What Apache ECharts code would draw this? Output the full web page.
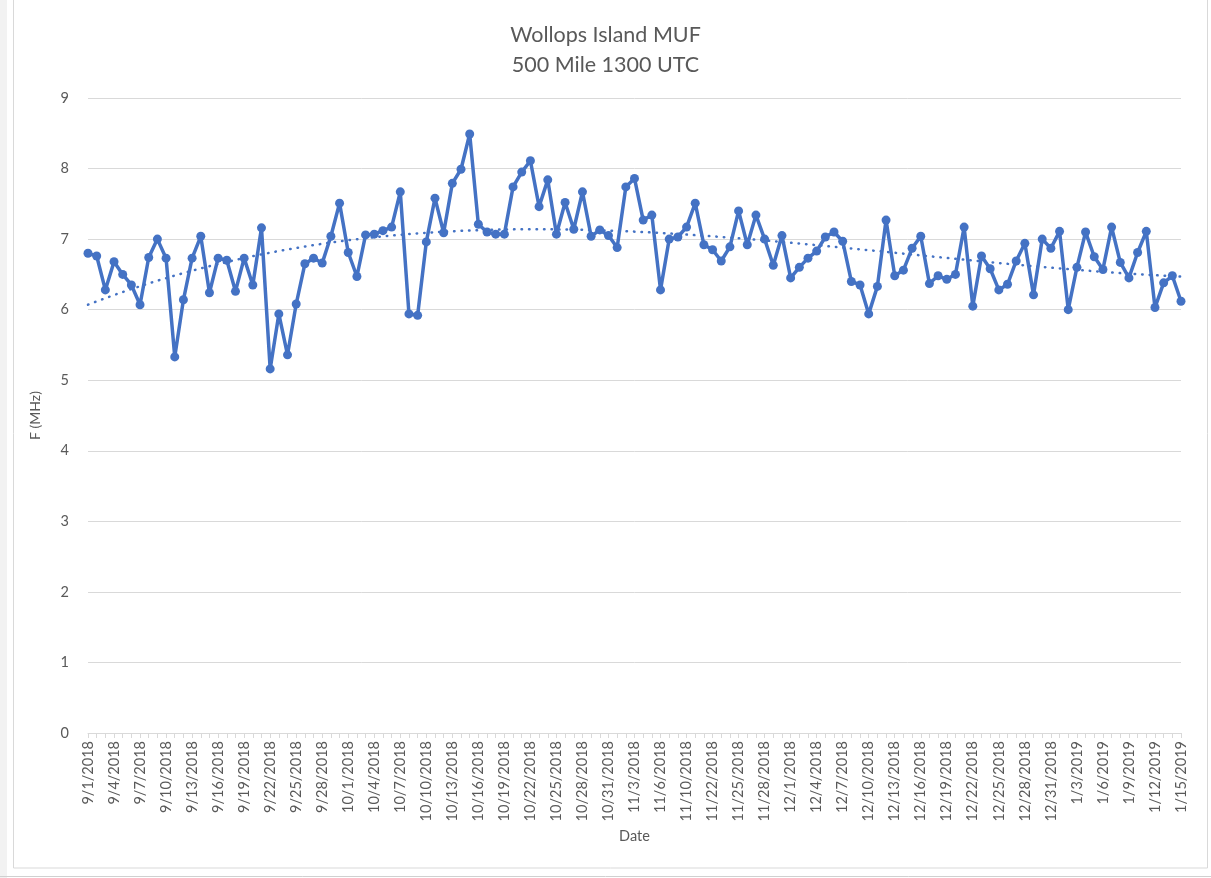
<!DOCTYPE html>
<html>
<head>
<meta charset="utf-8">
<script src="https://cdn.jsdelivr.net/npm/echarts@6/dist/echarts.min.js"></script>
<style>html,body{margin:0;padding:0;background:#fff;}#chart{width:1211px;height:878px;}</style>
</head>
<body>
<div id="chart"></div>
<script>
var titleText = "Wollops Island MUF\n500 Mile 1300 UTC";
var xAxisName = "Date";
var yAxisName = "F (MHz)";
var yTicks = [0, 1, 2, 3, 4, 5, 6, 7, 8, 9];

var dates = [
"9/1/2018","9/2/2018","9/3/2018","9/4/2018","9/5/2018","9/6/2018","9/7/2018","9/8/2018","9/9/2018","9/10/2018",
"9/11/2018","9/12/2018","9/13/2018","9/14/2018","9/15/2018","9/16/2018","9/17/2018","9/18/2018","9/19/2018","9/20/2018",
"9/21/2018","9/22/2018","9/23/2018","9/24/2018","9/25/2018","9/26/2018","9/27/2018","9/28/2018","9/29/2018","9/30/2018",
"10/1/2018","10/2/2018","10/3/2018","10/4/2018","10/5/2018","10/6/2018","10/7/2018","10/8/2018","10/9/2018","10/10/2018",
"10/11/2018","10/12/2018","10/13/2018","10/14/2018","10/15/2018","10/16/2018","10/17/2018","10/18/2018","10/19/2018","10/20/2018",
"10/21/2018","10/22/2018","10/23/2018","10/24/2018","10/25/2018","10/26/2018","10/27/2018","10/28/2018","10/29/2018","10/30/2018",
"10/31/2018","11/1/2018","11/2/2018","11/3/2018","11/4/2018","11/5/2018","11/6/2018","11/7/2018","11/8/2018","11/10/2018",
"11/11/2018","11/12/2018","11/22/2018","11/23/2018","11/24/2018","11/25/2018","11/26/2018","11/27/2018","11/28/2018","11/29/2018",
"11/30/2018","12/1/2018","12/2/2018","12/3/2018","12/4/2018","12/5/2018","12/6/2018","12/7/2018","12/8/2018","12/9/2018",
"12/10/2018","12/11/2018","12/12/2018","12/13/2018","12/14/2018","12/15/2018","12/16/2018","12/17/2018","12/18/2018","12/19/2018",
"12/20/2018","12/21/2018","12/22/2018","12/23/2018","12/24/2018","12/25/2018","12/26/2018","12/27/2018","12/28/2018","12/29/2018",
"12/30/2018","12/31/2018","1/1/2019","1/2/2019","1/3/2019","1/4/2019","1/5/2019","1/6/2019","1/7/2019","1/8/2019",
"1/9/2019","1/10/2019","1/11/2019","1/12/2019","1/13/2019","1/14/2019","1/15/2019"
];

var mufValues = [
6.80, 6.76, 6.28, 6.68, 6.50, 6.35, 6.07, 6.74, 7.00, 6.73,
5.33, 6.14, 6.73, 7.04, 6.24, 6.73, 6.70, 6.26, 6.73, 6.35,
7.16, 5.16, 5.94, 5.36, 6.08, 6.65, 6.73, 6.66, 7.04, 7.51,
6.81, 6.47, 7.06, 7.07, 7.12, 7.17, 7.67, 5.94, 5.92, 6.96,
7.58, 7.09, 7.79, 7.99, 8.49, 7.21, 7.10, 7.07, 7.07, 7.74,
7.95, 8.11, 7.46, 7.84, 7.07, 7.52, 7.14, 7.67, 7.04, 7.13,
7.05, 6.88, 7.74, 7.86, 7.27, 7.34, 6.28, 7.00, 7.03, 7.17,
7.51, 6.92, 6.85, 6.69, 6.89, 7.40, 6.92, 7.34, 7.00, 6.63,
7.05, 6.45, 6.60, 6.73, 6.83, 7.03, 7.10, 6.97, 6.40, 6.35,
5.94, 6.33, 7.27, 6.48, 6.56, 6.87, 7.04, 6.37, 6.48, 6.43,
6.50, 7.17, 6.05, 6.76, 6.58, 6.28, 6.36, 6.69, 6.94, 6.21,
7.00, 6.87, 7.11, 6.00, 6.60, 7.10, 6.75, 6.57, 7.17, 6.67,
6.45, 6.81, 7.11, 6.03, 6.38, 6.48, 6.12
];

// Polynomial trendline (least squares, like a spreadsheet trendline)
var trendOrder = 3;
function polyFit(ys, order) {
  var n = ys.length, mid = (n - 1) / 2, sc = (n - 1) / 2;
  var m = order + 1, A = [], b = [];
  for (var i = 0; i < m; i++) { A.push(new Array(m).fill(0)); b.push(0); }
  for (var k = 0; k < n; k++) {
    var t = (k - mid) / sc, p = [];
    for (var j = 0; j < m; j++) p.push(Math.pow(t, j));
    for (var r = 0; r < m; r++) {
      b[r] += p[r] * ys[k];
      for (var c = 0; c < m; c++) A[r][c] += p[r] * p[c];
    }
  }
  for (var col = 0; col < m; col++) {
    var piv = col;
    for (var r2 = col + 1; r2 < m; r2++) if (Math.abs(A[r2][col]) > Math.abs(A[piv][col])) piv = r2;
    var tmp = A[col]; A[col] = A[piv]; A[piv] = tmp; var tb = b[col]; b[col] = b[piv]; b[piv] = tb;
    for (var r3 = col + 1; r3 < m; r3++) {
      var f = A[r3][col] / A[col][col];
      for (var c2 = col; c2 < m; c2++) A[r3][c2] -= f * A[col][c2];
      b[r3] -= f * b[col];
    }
  }
  var coef = new Array(m).fill(0);
  for (var r4 = m - 1; r4 >= 0; r4--) {
    var s = b[r4];
    for (var c3 = r4 + 1; c3 < m; c3++) s -= A[r4][c3] * coef[c3];
    coef[r4] = s / A[r4][r4];
  }
  var out = [];
  for (var k2 = 0; k2 < n; k2++) {
    var t2 = (k2 - mid) / sc, v = 0;
    for (var j2 = 0; j2 < m; j2++) v += coef[j2] * Math.pow(t2, j2);
    out.push(+v.toFixed(4));
  }
  return out;
}
var trendValues = polyFit(mufValues, trendOrder);

var textColor = '#595959';
var gridColor = '#d9d9d9';
var lineColor = '#4472C4';
var fontFam = 'Lato, "Open Sans", sans-serif';

var chart = echarts.init(document.getElementById('chart'), null, {renderer: 'canvas'});
chart.setOption({
  backgroundColor: '#fff',
  animation: false,
  title: {
    text: titleText,
    left: 'center',
    top: 15,
    textStyle: {color: textColor, fontSize: 21.5, fontWeight: 'normal', lineHeight: 30, fontFamily: fontFam}
  },
  graphic: [
    {type: 'rect', shape: {x: 0, y: 0, width: 7, height: 878}, style: {fill: '#f2f2f2'}, silent: true},
    {type: 'rect', shape: {x: 13.5, y: -2, width: 1194, height: 870}, style: {fill: 'none', stroke: gridColor, lineWidth: 1}, silent: true},
    {type: 'line', shape: {x1: 0, y1: 876.5, x2: 1211, y2: 876.5}, style: {stroke: '#d0d0d0', lineWidth: 1}, silent: true}
  ],
  grid: {left: 88, right: 30, top: 98, bottom: 145, containLabel: false},
  xAxis: {
    type: 'category',
    data: dates,
    boundaryGap: false,
    name: xAxisName,
    nameLocation: 'middle',
    nameGap: 96,
    nameTextStyle: {color: textColor, fontSize: 14.5, fontFamily: fontFam},
    axisLine: {lineStyle: {color: gridColor}},
    axisTick: {show: true, interval: 0, length: 5, lineStyle: {color: gridColor}},
    axisLabel: {rotate: 90, interval: 2, color: textColor, fontSize: 14.5, margin: 8, fontFamily: fontFam},
    splitLine: {show: false}
  },
  yAxis: {
    type: 'value',
    min: yTicks[0],
    max: yTicks[yTicks.length - 1],
    interval: 1,
    name: yAxisName,
    nameLocation: 'middle',
    nameRotate: 90,
    nameGap: 46,
    nameTextStyle: {color: textColor, fontSize: 14, fontFamily: fontFam},
    axisLine: {show: false},
    axisTick: {show: false},
    axisLabel: {color: textColor, fontSize: 14.5, margin: 19, fontFamily: fontFam},
    splitLine: {lineStyle: {color: gridColor, width: 1}}
  },
  series: [
    {
      name: 'MUF',
      type: 'line',
      data: mufValues,
      symbol: 'circle',
      symbolSize: 9,
      showAllSymbol: true,
      lineStyle: {color: lineColor, width: 3.5},
      itemStyle: {color: lineColor},
      z: 3
    },
    {
      name: 'Trend',
      type: 'line',
      data: trendValues,
      symbol: 'none',
      smooth: false,
      lineStyle: {color: lineColor, width: 2.5, type: [0.5, 7], cap: 'round'},
      z: 2
    }
  ]
});
</script>
</body>
</html>
